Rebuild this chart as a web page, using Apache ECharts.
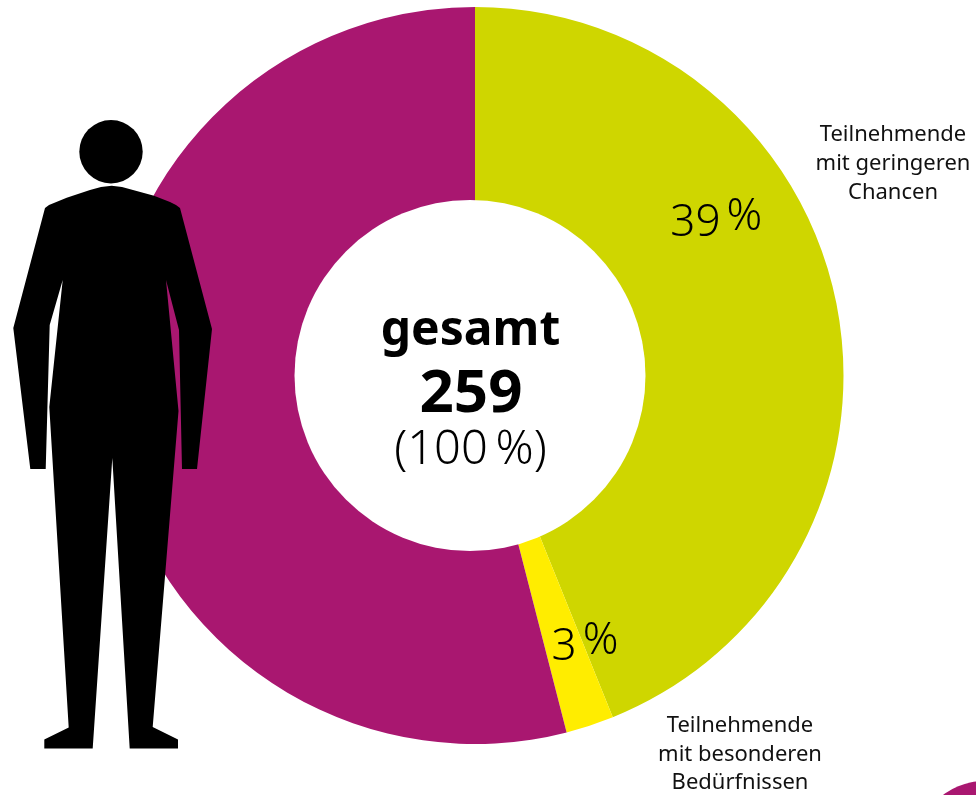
<!DOCTYPE html>
<html><head><meta charset="utf-8">
<style>html,body{margin:0;padding:0;background:#fff}#c{width:976px;height:795px}</style>
<script src="https://cdn.jsdelivr.net/npm/echarts@6/dist/echarts.min.js"></script>
</head><body><div id="c"></div>
<script>
const categories = ['Teilnehmende mit geringeren Chancen', 'Teilnehmende mit besonderen Bedürfnissen', 'Weitere Teilnehmende'];
const sliceShares = [43.9, 2.1, 54];
const printedNumbers = ['39', '3', ''];
const sliceColors = ['#cfd600', '#ffed00', '#a91770'];
const centerLines = ['gesamt', '259', '(100\u2009%)'];
const bodyOutline = [[111.7,185.7],[122,187],[133,190],[154,195.7],[170,202],[176,205],[180,208],[212,329],[197,469],[182,469],[179,330],[166,280],[178.5,411],[152.7,727],[178,739.5],[178,748.5],[129.7,748.5],[112.3,458],[92.7,748.5],[44.3,748.5],[44.3,739.5],[68.7,727.5],[49.3,407],[62.7,280],[49.7,325],[45.7,469],[30.3,469],[13.3,328],[45,208],[49,205],[66.7,197.7],[90,190],[101,187]];
const FONT = '"Noto Sans", sans-serif';
const chart = echarts.init(document.getElementById('c'), null, {renderer:'canvas'});
const labelOffsets = [[-26,-103],[25,10],[0,0]];
const txt = (text,x,y,size,weight,fill) => ({type:'text',z:200,style:{text,x,y,font:`${weight} ${size}px ${FONT}`,fill:fill||'#000',align:'center',verticalAlign:'middle'}});
chart.setOption({
  animation:false,
  series:[{
    type:'pie',center:[475,375.5],radius:[170,368.5],startAngle:90,clockwise:true,silent:true,
    avoidLabelOverlap:false,
    data:categories.map((name,i)=>({name,value:sliceShares[i],itemStyle:{color:sliceColors[i]},
      label:{show:printedNumbers[i]!=='',position:'inside',offset:labelOffsets[i],
        formatter:()=>`{n|${printedNumbers[i]}}{p|%}`,
        rich:{n:{fontFamily:FONT,fontWeight:300,fontSize:44,color:'#000',padding:[6,6,0,0]},p:{fontFamily:FONT,fontWeight:300,fontSize:44,color:'#000',padding:[0,0,6,0]}}},
      labelLine:{show:false}}))
  }],
  graphic:[
    {type:'circle',z:100,shape:{cx:470,cy:375.5,r:175.5},style:{fill:'#fff'}},
    {type:'circle',z:110,shape:{cx:111,cy:151.7,r:31.7},style:{fill:'#000'}},
    {type:'polygon',z:110,shape:{points:bodyOutline},style:{fill:'#000'}},
    {type:'circle',z:110,shape:{cx:985,cy:851,r:70},style:{fill:sliceColors[2]}},
    txt(centerLines[0],470.5,331,48,700),
    txt(centerLines[1],471,395,60,700),
    txt(centerLines[2],470.5,451,47,300),
    txt('Teilnehmende',893,135,22,400,'#111'),
    txt('mit geringeren',893,164,22,400,'#111'),
    txt('Chancen',893,192.5,22,400,'#111'),
    txt('Teilnehmende',740,726,22,400,'#111'),
    txt('mit besonderen',740,754.5,22,400,'#111'),
    txt('Bedürfnissen',740,783,22,400,'#111')
  ]
});
</script></body></html>
